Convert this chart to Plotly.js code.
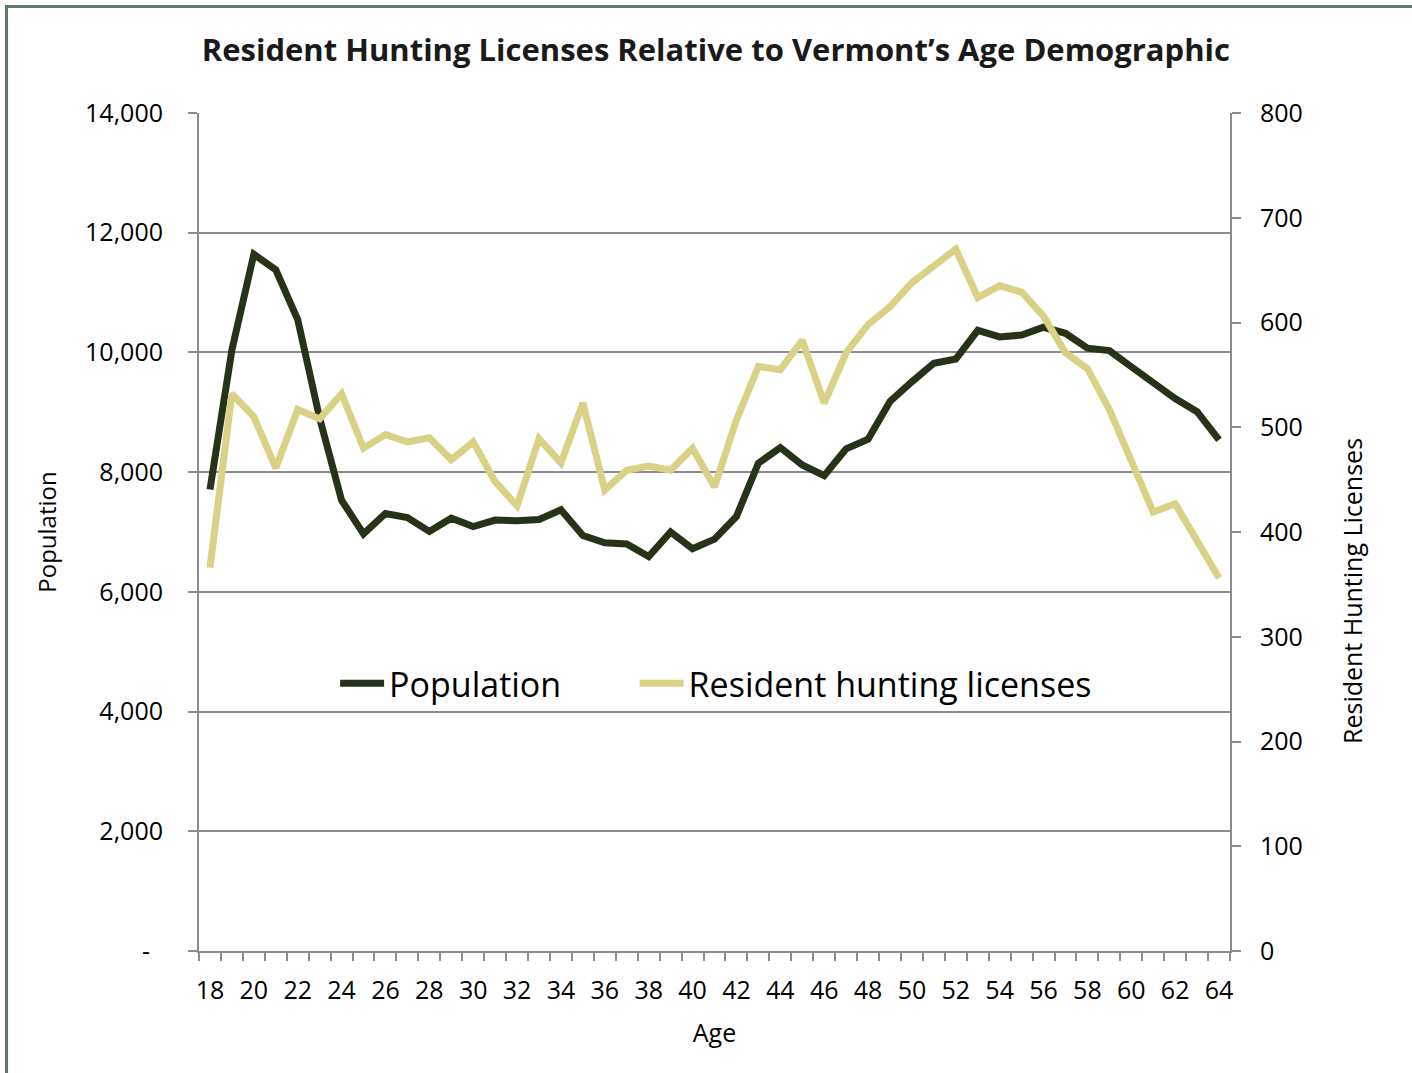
<!DOCTYPE html>
<html>
<head>
<meta charset="utf-8">
<script src="https://cdn.plot.ly/plotly-3.0.1.min.js"></script>
<style>
  html, body { margin: 0; padding: 0; background: #ffffff; }
  #frame { position: absolute; left: 0; top: 0; width: 1412px; height: 1073px; }
  #chart { position: absolute; left: 0; top: 0; width: 1412px; height: 1073px; }
  #bt { position: absolute; left: 5px; top: 5px; width: 1407px; height: 3px; background: #5b7b66; }
  #bl { position: absolute; left: 5px; top: 5px; width: 3px; height: 1068px; background: #5b7b66; }
</style>
</head>
<body>
<div id="frame">
  <div id="chart"></div>
  <div id="bt"></div>
  <div id="bl"></div>
</div>
<script>
const ages = [18,19,20,21,22,23,24,25,26,27,28,29,30,31,32,33,34,35,36,37,38,39,40,41,42,43,44,45,46,47,48,49,50,51,52,53,54,55,56,57,58,59,60,61,62,63,64];

const population = [7710,10040,11640,11380,10550,8900,7530,6970,7310,7240,7010,7230,7090,7200,7190,7210,7370,6940,6820,6800,6590,7000,6720,6880,7260,8150,8410,8120,7940,8390,8550,9180,9510,9820,9890,10370,10260,10290,10420,10320,10070,10030,9760,9500,9230,9010,8540];

const licenses = [366,532,510,461,517,508,532,480,493,486,490,469,486,448,425,489,466,523,440,459,463,459,480,443,507,558,555,583,523,571,598,615,638,653,670,624,635,629,606,571,556,517,466,419,427,391,356];

const popTicks = [0,2000,4000,6000,8000,10000,12000,14000];
const popTickText = ['-\u00a0\u00a0','2,000','4,000','6,000','8,000','10,000','12,000','14,000'];
const licTicks = [0,100,200,300,400,500,600,700,800];
const ageTickVals = [18,20,22,24,26,28,30,32,34,36,38,40,42,44,46,48,50,52,54,56,58,60,62,64];

const FONT = 'Open Sans, Noto Sans, DejaVu Sans, sans-serif';
const GRID = '#8c8c8c';

const traces = [
  {
    x: ages, y: population, name: 'Population', type: 'scatter', mode: 'lines',
    line: { color: '#273318', width: 7 }, yaxis: 'y', legend: 'legend'
  },
  {
    x: ages, y: licenses, name: 'Resident hunting licenses', type: 'scatter', mode: 'lines',
    line: { color: '#d9d185', width: 7 }, yaxis: 'y2', legend: 'legend2'
  }
];

const legendBase = {
  orientation: 'h', xanchor: 'left', y: 0.319, yanchor: 'middle',
  font: { family: FONT, size: 34, color: '#000000' },
  bgcolor: 'rgba(0,0,0,0)', itemwidth: 44
};

const layout = {
  width: 1412, height: 1073,
  paper_bgcolor: '#ffffff', plot_bgcolor: '#ffffff',
  margin: { l: 199, r: 182, t: 113, b: 122, pad: 0 },
  font: { family: FONT, color: '#000000', size: 24 },
  title: {
    text: 'Resident Hunting Licenses Relative to Vermont\u2019s Age Demographic',
    font: { family: FONT, size: 31, color: '#1a1a1a', weight: 'bold' },
    x: 0.507, xanchor: 'center', y: 0.953, yanchor: 'middle'
  },
  showlegend: true,
  legend: Object.assign({}, legendBase, { x: 0.132 }),
  legend2: Object.assign({}, legendBase, { x: 0.4225 }),
  xaxis: {
    range: [17.5, 64.5], tickmode: 'array', tickvals: ageTickVals,
    ticks: '', showgrid: false, zeroline: false,
    showline: true, linecolor: GRID, linewidth: 2,
    tickfont: { family: FONT, size: 25 },
    ticklabelstandoff: 16,
    minor: { ticks: 'outside', tick0: 0.5, dtick: 1, ticklen: 8, tickcolor: GRID, tickwidth: 2, showgrid: false },
    title: { text: 'Age', font: { family: FONT, size: 25 }, standoff: 19 },
    fixedrange: true
  },
  yaxis: {
    range: [0, 14000], tickmode: 'array', tickvals: popTicks, ticktext: popTickText,
    showgrid: true, gridcolor: GRID, gridwidth: 2, zeroline: false,
    showline: true, linecolor: GRID, linewidth: 2,
    ticks: 'outside', ticklen: 9, tickcolor: GRID, tickwidth: 2,
    tickfont: { family: FONT, size: 25 },
    ticklabelstandoff: 20,
    title: { text: 'Population', font: { family: FONT, size: 24 }, standoff: 22 },
    fixedrange: true
  },
  yaxis2: {
    range: [0, 800], tickmode: 'array', tickvals: licTicks,
    overlaying: 'y', side: 'right',
    showgrid: false, zeroline: false,
    showline: true, linecolor: GRID, linewidth: 2,
    ticks: 'outside', ticklen: 9, tickcolor: GRID, tickwidth: 2,
    tickfont: { family: FONT, size: 25 },
    ticklabelstandoff: 14,
    fixedrange: true
  },
  annotations: [
    {
      text: 'Resident Hunting Licenses', textangle: -90,
      xref: 'paper', yref: 'paper', x: (1352 - 199) / 1031, y: (951 - 591) / 838,
      xanchor: 'center', yanchor: 'middle', showarrow: false,
      font: { family: FONT, size: 25, color: '#000000' }
    }
  ]
};

Plotly.newPlot('chart', traces, layout, { displayModeBar: false, staticPlot: true });
</script>
</body>
</html>
